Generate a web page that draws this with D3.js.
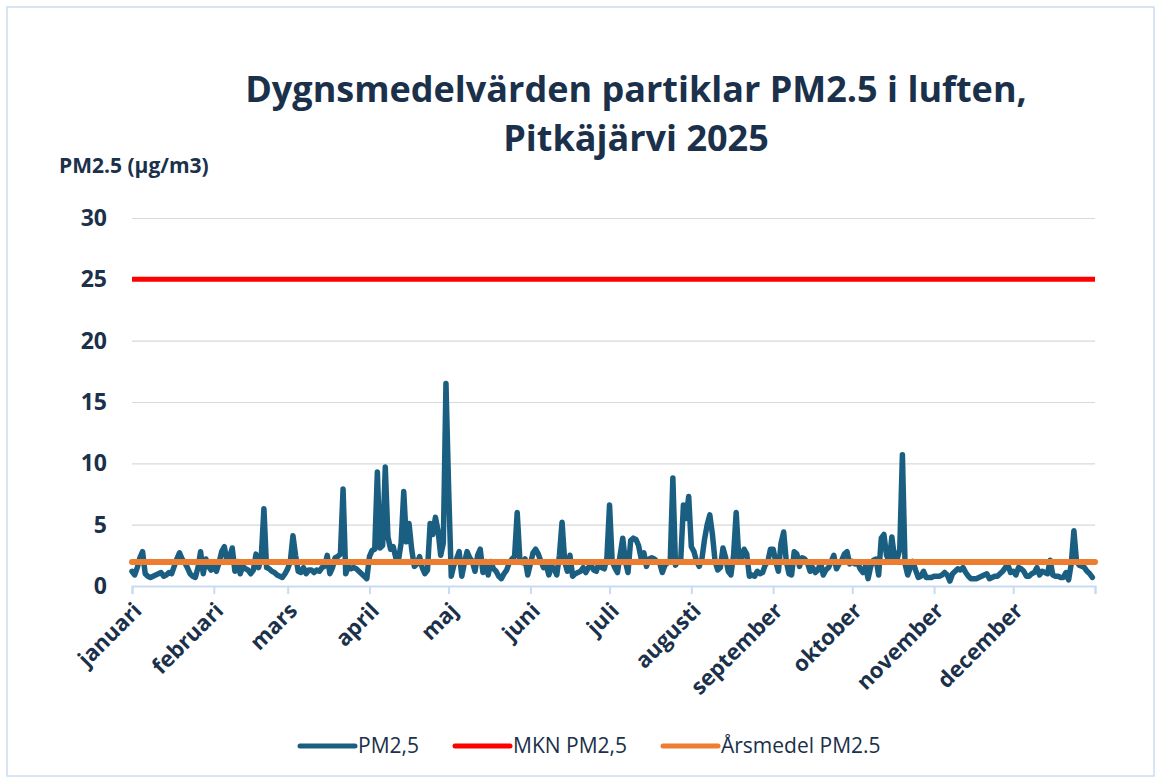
<!DOCTYPE html>
<html>
<head>
<meta charset="utf-8">
<script src="https://cdn.jsdelivr.net/npm/d3@7"></script>
<style>
  html, body { margin: 0; padding: 0; background: #ffffff; }
  svg { display: block; }
</style>
</head>
<body>
<svg id="chart" width="1161" height="780"></svg>
<script>
// ---------------- DATA ----------------
const titleLines = ["Dygnsmedelvärden partiklar PM2.5 i luften,", "Pitkäjärvi 2025"];
const yAxisTitle = "PM2.5 (µg/m3)";
const yTicks = [0, 5, 10, 15, 20, 25, 30];
const monthLabels = ["januari", "februari", "mars", "april", "maj", "juni", "juli",
                     "augusti", "september", "oktober", "november", "december"];
const seriesNames = ["PM2,5", "MKN PM2,5", "Årsmedel PM2.5"];
const startDate = "2025-01-01";
const mknLimit = 25;        // MKN PM2,5
const annualMean = 1.95;    // Årsmedel PM2.5

// Daily means PM2,5 (µg/m3), one value per day
const pmJan = [1.2,0.9,1.5,2.3,2.8,1.0,0.8,0.7,0.8,0.9,1.0,1.1,0.8,0.9,1.1,1.0,1.6,2.2,2.7,2.2,1.9,1.5,1.0,0.8,0.7,1.5,2.8,1.0,2.2,1.6,1.3];
const pmFeb = [1.6,1.2,1.9,2.8,3.2,2.0,2.4,3.1,1.2,2.0,1.0,1.6,1.4,1.3,1.0,1.3,2.6,1.5,2.4,6.3,1.5,1.4,1.2,1.1,0.9,0.8,0.7,1.0];
const pmMar = [1.4,2.0,4.1,2.5,1.2,1.1,1.5,1.0,1.3,1.3,1.1,1.3,1.2,1.5,1.6,2.5,1.0,1.5,2.3,2.4,2.6,7.9,1.0,1.6,1.4,1.5,1.4,1.2,1.0,0.8,0.6];
const pmApr = [2.4,2.9,3.0,9.3,3.1,3.3,9.7,4.0,3.0,3.2,2.3,2.1,3.5,7.7,3.6,5.1,3.0,1.6,1.8,2.4,1.5,1.0,1.3,5.1,4.2,5.6,4.5,2.5,3.5,16.5];
const pmMay = [8.0,0.8,1.7,2.2,2.8,0.8,1.9,2.8,2.3,2.0,1.2,2.5,3.0,1.1,2.0,0.9,2.0,1.4,1.2,0.8,0.6,1.0,1.3,1.9,2.2,2.4,6.0,2.2,1.9,2.2,0.9];
const pmJun = [1.8,2.7,3.0,2.6,2.0,1.5,1.7,0.9,1.6,1.4,0.9,2.5,5.2,2.0,1.2,2.5,0.8,1.0,1.1,1.2,1.5,1.1,1.5,1.7,1.3,1.2,1.9,1.5,1.4,2.3];
const pmJul = [6.6,2.0,1.5,1.1,2.5,3.9,2.0,1.1,3.7,3.9,3.8,3.3,2.2,2.7,1.6,2.2,2.3,2.2,2.0,1.9,1.1,1.7,1.9,2.0,8.8,1.7,2.0,2.2,6.6,5.5,7.3];
const pmAug = [3.2,2.8,2.0,1.6,2.2,3.8,5.0,5.8,4.2,2.0,1.3,1.5,3.1,2.3,1.2,0.9,2.5,6.0,2.3,2.3,3.0,2.6,0.8,0.9,0.8,1.2,1.0,1.1,1.7,2.0,3.0];
const pmSep = [3.0,2.0,1.2,3.5,4.4,2.0,1.0,0.9,2.8,2.6,1.6,2.3,2.2,1.9,1.2,1.5,1.1,1.3,1.9,0.9,1.3,1.5,2.0,2.5,1.4,1.8,2.1,2.6,2.8,1.8];
const pmOct = [2.0,1.8,1.9,1.4,1.1,1.6,0.6,1.6,2.1,2.2,0.9,3.9,4.2,2.5,2.0,4.0,2.3,2.2,3.0,10.7,1.8,0.9,1.5,2.0,1.3,0.7,0.8,1.2,0.7,0.7,0.7];
const pmNov = [0.8,0.8,0.8,0.9,1.1,0.9,0.4,1.0,1.2,1.4,1.3,1.5,1.1,0.8,0.6,0.6,0.6,0.7,0.8,0.9,1.0,0.6,0.7,0.8,0.8,1.0,1.2,1.5,1.7,1.1];
const pmDec = [1.2,0.9,1.5,1.4,1.2,0.8,0.8,1.0,1.1,1.5,0.9,1.2,1.1,1.0,2.1,0.9,0.8,0.8,0.7,0.7,1.1,0.5,1.8,4.5,2.0,1.7,1.6,1.5,1.2,1.0,0.7];

const pmDaily = [].concat(pmJan, pmFeb, pmMar, pmApr, pmMay, pmJun, pmJul, pmAug, pmSep, pmOct, pmNov, pmDec);

// ---------------- CHART ----------------
const FONT = "'Open Sans', 'Noto Sans', 'DejaVu Sans', sans-serif";
const TEXT = "#1b304a";
const BLUE = "#1a5f82";
const RED = "#ff0000";
const ORANGE = "#ed7d31";

const svg = d3.select("#chart");
const W = 1161, H = 780;
const plot = { left: 132, right: 1095, top: 218, bottom: 586 };

// frame
svg.append("rect")
  .attr("x", 7).attr("y", 7).attr("width", W - 14).attr("height", H - 11)
  .attr("fill", "#ffffff").attr("stroke", "#cddcee").attr("stroke-width", 1.5);

const parse = d3.utcParse("%Y-%m-%d");
const t0 = parse(startDate);
const t1 = d3.utcYear.offset(t0, 1);
const dates = pmDaily.map((v, i) => d3.utcDay.offset(t0, i));

const x = d3.scaleUtc().domain([t0, t1]).range([plot.left, plot.right]);
const y = d3.scaleLinear().domain([0, 30]).range([plot.bottom, plot.top]);

// title
svg.append("g").selectAll("text").data(titleLines).join("text")
  .attr("x", 636).attr("y", (d, i) => 102 + i * 49)
  .attr("text-anchor", "middle")
  .attr("font-family", FONT).attr("font-weight", 700).attr("font-size", 36)
  .attr("fill", TEXT)
  .text(d => d);

// y axis title
svg.append("text")
  .attr("x", 59).attr("y", 173)
  .attr("font-family", FONT).attr("font-weight", 700).attr("font-size", 21)
  .attr("fill", TEXT)
  .text(yAxisTitle);

// gridlines + y labels
const yAxis = d3.axisLeft(y).tickValues(yTicks).tickSize(-(plot.right - plot.left)).tickPadding(25);
const gy = svg.append("g").attr("transform", `translate(${plot.left},0)`).call(yAxis);
gy.select(".domain").remove();
gy.selectAll(".tick line").attr("stroke", "#d9d9d9").attr("stroke-width", 1.2);
gy.selectAll(".tick").filter(d => d === 0).select("line").remove();
gy.selectAll(".tick text")
  .attr("font-family", FONT).attr("font-weight", 700).attr("font-size", 23)
  .attr("fill", TEXT);

// x axis
const monthTicks = d3.utcMonth.range(t0, d3.utcDay.offset(t1, 1));
const xAxis = d3.axisBottom(x).tickValues(monthTicks).tickSize(8).tickFormat("");
const gx = svg.append("g").attr("transform", `translate(0,${plot.bottom})`).call(xAxis);
gx.select(".domain").attr("stroke", "#c9dbf1").attr("stroke-width", 2);
gx.selectAll(".tick line").attr("stroke", "#c9dbf1").attr("stroke-width", 2);

svg.append("g").selectAll("text").data(monthTicks.slice(0, 12)).join("text")
  .attr("transform", d => `translate(${x(d) + 11},${plot.bottom + 26}) rotate(-45)`)
  .attr("text-anchor", "end")
  .attr("font-family", FONT).attr("font-weight", 700).attr("font-size", 22)
  .attr("fill", TEXT)
  .text((d, i) => monthLabels[i]);

// PM2,5 series
const line = d3.line().x((d, i) => x(dates[i])).y(d => y(d));
svg.append("path")
  .datum(pmDaily)
  .attr("d", line)
  .attr("fill", "none")
  .attr("stroke", BLUE).attr("stroke-width", 5.5)
  .attr("stroke-linejoin", "round").attr("stroke-linecap", "round");

// MKN limit
svg.append("line")
  .attr("x1", x(t0)).attr("x2", x(t1))
  .attr("y1", y(mknLimit)).attr("y2", y(mknLimit))
  .attr("stroke", RED).attr("stroke-width", 5);

// annual mean
svg.append("line")
  .attr("x1", x(t0)).attr("x2", x(t1))
  .attr("y1", y(annualMean)).attr("y2", y(annualMean))
  .attr("stroke", ORANGE).attr("stroke-width", 6).attr("stroke-linecap", "round");

// legend
const legendItems = [
  { name: seriesNames[0], color: BLUE, x: 300 },
  { name: seriesNames[1], color: RED, x: 455 },
  { name: seriesNames[2], color: ORANGE, x: 663 }
];
const lg = svg.append("g").selectAll("g").data(legendItems).join("g")
  .attr("transform", d => `translate(${d.x},746)`);
lg.append("line").attr("x1", 0).attr("x2", 55).attr("y1", 0).attr("y2", 0)
  .attr("stroke", d => d.color).attr("stroke-width", 5).attr("stroke-linecap", "round");
lg.append("text").attr("x", 58).attr("y", 7)
  .attr("font-family", FONT).attr("font-size", 21).attr("fill", TEXT)
  .text(d => d.name);
</script>
</body>
</html>
